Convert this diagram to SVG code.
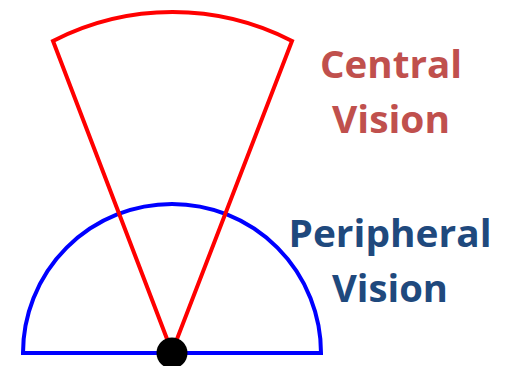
<svg xmlns="http://www.w3.org/2000/svg" width="506" height="366" viewBox="0 0 506 366">
<style>
.lbl{font-family:"Open Sans","Liberation Sans",sans-serif;font-weight:bold;font-size:38px;text-anchor:middle}
.central{fill:#C0504D}
.periph{fill:#1F497D}
</style>
<rect width="506" height="366" fill="#fff"/>
<g id="peripheral-field">
<path d="M23 353 A149 149 0 0 1 321 353 Z" fill="none" stroke="#0000FF" stroke-width="4"/>
</g>
<g id="central-field">
<path d="M172 352 L53 41 A261 261 0 0 1 292 41 Z" fill="none" stroke="#FF0000" stroke-width="4" stroke-linejoin="miter"/>
</g>
<g id="eye">
<circle cx="172" cy="353" r="15.5" fill="#000"/>
</g>
<g id="label-central">
<text class="lbl central" x="391" y="78" textLength="142" lengthAdjust="spacingAndGlyphs">Central</text>
<text class="lbl central" x="391" y="133" textLength="118" lengthAdjust="spacingAndGlyphs">Vision</text>
</g>
<g id="label-peripheral">
<text class="lbl periph" x="390" y="247" textLength="203" lengthAdjust="spacingAndGlyphs">Peripheral</text>
<text class="lbl periph" x="390" y="302" textLength="116" lengthAdjust="spacingAndGlyphs">Vision</text>
</g>
</svg>
